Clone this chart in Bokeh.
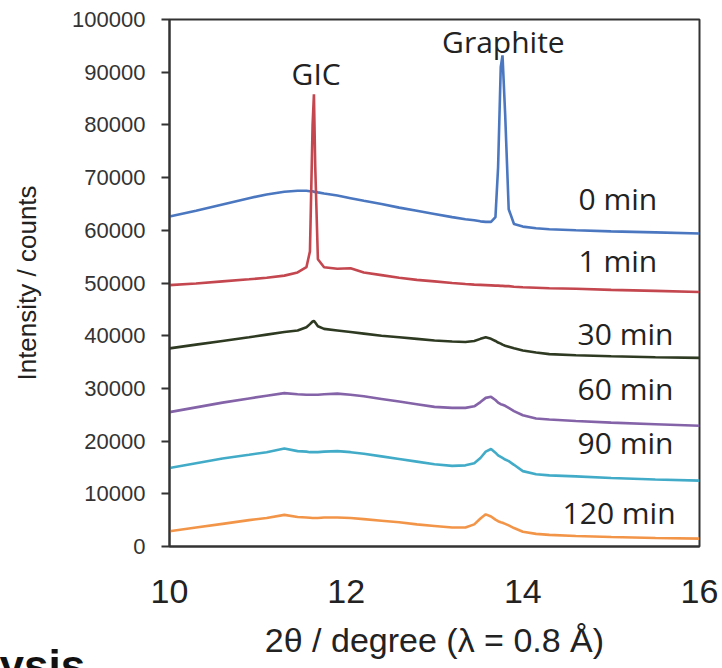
from bokeh.plotting import figure
from bokeh.models import Range1d, FixedTicker, Label, ColumnDataSource, NumeralTickFormatter, Title
from bokeh.embed import file_html
from bokeh.resources import INLINE

# 2theta grid (degree)
two_theta = [10.0, 10.3, 10.6, 10.9, 11.1, 11.3, 11.45, 11.55, 11.59, 11.62, 11.635,
             11.65, 11.68, 11.75, 11.9, 12.05, 12.2, 12.4, 12.6, 12.8, 13.0, 13.2,
             13.35, 13.45, 13.52, 13.58, 13.64, 13.69, 13.72, 13.75, 13.77, 13.8,
             13.84, 13.9, 14.0, 14.15, 14.3, 14.6, 15.0, 15.5, 16.0]

int_0min = [62600, 63700, 64900, 66100, 66800, 67300, 67500, 67500, 67400, 67400, 67300,
            67300, 67200, 67000, 66600, 66100, 65600, 65000, 64300, 63700, 63100, 62500,
            62100, 61900, 61700, 61600, 61600, 62500, 72000, 91000, 93200, 82000,
            64000, 61200, 60700, 60400, 60200, 60000, 59800, 59600, 59400]

int_1min = [49600, 49900, 50300, 50700, 51000, 51400, 52000, 53000, 56000, 80000, 85800,
            72000, 54500, 53000, 52700, 52800, 52000, 51500, 51000, 50600, 50300, 50000,
            49800, 49700, 49650, 49600, 49550, 49500, 49500, 49450, 49450, 49400,
            49400, 49300, 49200, 49100, 49000, 48900, 48700, 48500, 48300]

int_30min = [37600, 38300, 39000, 39700, 40200, 40700, 41000, 41600, 42200, 42700, 42800,
             42500, 41800, 41300, 41000, 40700, 40400, 40000, 39700, 39400, 39100, 38900,
             38800, 39000, 39400, 39700, 39400, 39000, 38700, 38500, 38300, 38100,
             37900, 37600, 37200, 36800, 36500, 36300, 36100, 35900, 35800]

int_60min = [25500, 26400, 27300, 28100, 28600, 29100, 28900, 28800, 28800, 28800, 28800,
             28800, 28800, 28900, 29000, 28800, 28500, 28000, 27500, 27000, 26500, 26300,
             26300, 26600, 27400, 28200, 28400, 27800, 27300, 27000, 26900, 26700,
             26300, 25700, 24900, 24300, 24100, 23800, 23500, 23200, 22900]

int_90min = [14900, 15800, 16700, 17400, 17900, 18600, 18100, 18000, 17900, 17900, 17900,
             17900, 17900, 18000, 18100, 17900, 17600, 17100, 16600, 16100, 15600, 15300,
             15400, 15800, 16800, 18000, 18500, 17800, 17300, 17000, 16800, 16500,
             16200, 15500, 14300, 13700, 13500, 13300, 13000, 12700, 12500]

int_120min = [2900, 3600, 4300, 5000, 5400, 6000, 5600, 5500, 5450, 5400, 5400,
              5400, 5400, 5500, 5500, 5400, 5200, 4900, 4600, 4200, 3900, 3600,
              3600, 4200, 5300, 6100, 5700, 5100, 4800, 4600, 4500, 4300,
              4000, 3500, 2800, 2400, 2200, 2000, 1800, 1600, 1500]

series_names = ["0 min", "1 min", "30 min", "60 min", "90 min", "120 min"]
series_values = [int_0min, int_1min, int_30min, int_60min, int_90min, int_120min]
series_colors = ["#4a77c0", "#c4474f", "#2f3a22", "#8463a8", "#42acc8", "#f39549"]

# label anchors (data coords)
label_x = [14.63, 14.63, 14.62, 14.62, 14.62, 14.45]
label_y = [66100, 54200, 40500, 29900, 19700, 6400]

peak_names = ["GIC", "Graphite"]
peak_x = [11.66, 13.78]
peak_y = [89800, 95800]

x_ticks = [10, 12, 14, 16]
y_ticks = [0, 10000, 20000, 30000, 40000, 50000, 60000, 70000, 80000, 90000, 100000]

p = figure(width=722, height=668, output_backend="svg", toolbar_location=None,
           x_range=Range1d(10, 16), y_range=Range1d(0, 100000),
           min_border_left=169, min_border_right=23, min_border_top=19,
           min_border_bottom=122)
p.background_fill_color = "white"
p.border_fill_color = "white"
p.outline_line_color = "#333333"
p.outline_line_width = 2
p.xgrid.visible = False
p.ygrid.visible = False

for name, vals, col in zip(series_names, series_values, series_colors):
    src = ColumnDataSource(dict(x=two_theta, y=vals))
    p.line("x", "y", source=src, line_color=col, line_width=2.6)

axis_font = "Liberation Sans"
xa = p.xaxis[0]
xa.ticker = FixedTicker(ticks=x_ticks)
xa.minor_tick_line_color = None
xa.major_tick_out = 0
xa.major_tick_in = 0
xa.major_label_standoff = 33
xa.major_label_text_font = axis_font
xa.major_label_text_font_size = "34px"
xa.major_label_text_color = "#222222"
xa.axis_line_color = "#333333"
xa.axis_line_width = 2
xa.axis_label = "2θ / degree (λ = 0.8 Å)"
xa.axis_label_text_font = axis_font
xa.axis_label_text_font_size = "34px"
xa.axis_label_text_font_style = "normal"
xa.axis_label_text_color = "#222222"
xa.axis_label_standoff = 15

ya = p.yaxis[0]
ya.ticker = FixedTicker(ticks=y_ticks)
ya.formatter = NumeralTickFormatter(format="0")
ya.minor_tick_line_color = None
ya.major_tick_out = 8
ya.major_tick_in = 0
ya.major_tick_line_width = 2
ya.major_tick_line_color = "#333333"
ya.major_label_standoff = 16
ya.major_label_text_font = axis_font
ya.major_label_text_font_size = "22px"
ya.major_label_text_color = "#333333"
ya.axis_line_color = "#333333"
ya.axis_line_width = 2
ya.axis_label = "Intensity / counts"
ya.axis_label_text_font = axis_font
ya.axis_label_text_font_size = "26px"
ya.axis_label_text_font_style = "normal"
ya.axis_label_text_color = "#222222"
ya.axis_label_standoff = 27

ann_font = "Open Sans"
for name, lx, ly in zip(series_names, label_x, label_y):
    p.add_layout(Label(x=lx, y=ly, text=name, text_font=ann_font, text_font_size="30px",
                       text_color="#222222", text_align="left", text_baseline="middle"))

for name, px, py in zip(peak_names, peak_x, peak_y):
    p.add_layout(Label(x=px, y=py, text=name, text_font=ann_font, text_font_size="30px",
                       text_color="#222222", text_align="center", text_baseline="middle"))

# fragment of the surrounding page text, bottom-left corner (outside the plot frame)
frag = Title(text="ysis", align="left", vertical_align="bottom", offset=-170, standoff=-46,
             text_font=axis_font, text_font_size="44px", text_font_style="bold",
             text_color="#111111")
p.add_layout(frag, "below")

open("out.html", "w").write(file_html(p, INLINE))
